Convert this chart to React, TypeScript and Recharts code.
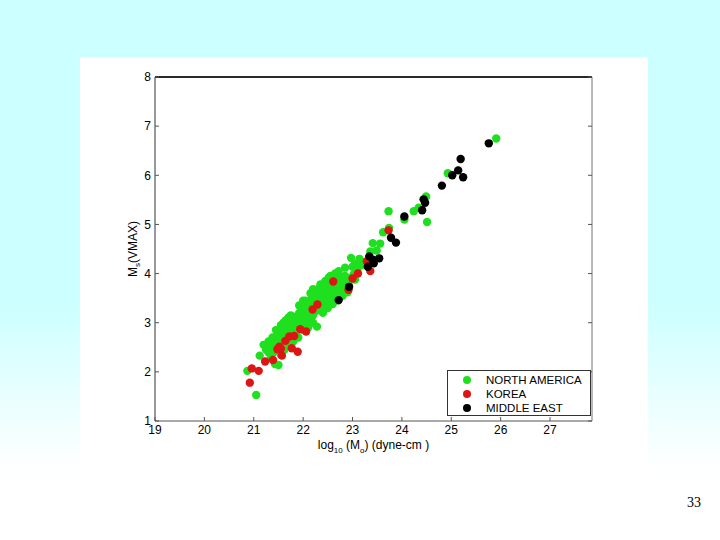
import { ScatterChart, Scatter, XAxis, YAxis, Legend, Label } from 'recharts';

const X_TICKS = [19, 20, 21, 22, 23, 24, 25, 26, 27];
const Y_TICKS = [1, 2, 3, 4, 5, 6, 7, 8];

// [log10 Mo, Ms] pairs
const northAmerica = [
  [20.87, 2.02], [21.05, 1.53], [21.12, 2.33], [21.43, 2.16], [21.5, 2.14], [21.3, 2.4],
  [21.35, 2.5], [21.38, 2.7], [21.3, 2.62], [21.42, 2.58], [21.45, 2.66], [21.48, 2.75],
  [21.52, 2.68], [21.55, 2.55], [21.58, 2.8], [21.6, 2.72], [21.62, 2.6], [21.65, 2.88],
  [21.68, 2.78], [21.7, 2.66], [21.72, 2.95], [21.75, 2.84], [21.78, 2.74], [21.8, 3.02],
  [21.82, 2.9], [21.85, 2.8], [21.85, 3.12], [21.88, 2.98], [21.9, 2.86], [21.92, 3.2],
  [21.95, 3.05], [21.97, 2.93], [22.0, 3.25], [22.0, 3.1], [22.02, 2.98], [22.05, 3.3],
  [22.06, 3.16], [22.08, 3.02], [22.1, 3.4], [22.12, 3.22], [22.14, 3.08], [22.15, 3.45],
  [22.18, 3.32], [22.2, 3.15], [22.22, 3.5], [22.24, 3.38], [22.26, 3.24], [22.28, 2.92],
  [22.3, 3.55], [22.31, 3.69], [22.32, 3.42], [22.34, 3.3], [22.36, 3.6], [22.38, 3.48],
  [22.4, 3.36], [22.42, 3.66], [22.45, 3.54], [22.47, 3.42], [22.5, 3.72], [22.52, 3.6],
  [22.55, 3.48], [22.58, 3.78], [22.6, 3.65], [22.62, 3.55], [22.65, 3.85], [22.68, 3.72],
  [22.7, 3.62], [22.75, 3.9], [22.78, 3.8], [22.82, 3.7], [22.85, 3.95], [22.88, 3.85],
  [22.92, 3.78], [22.97, 4.32], [23.0, 4.14], [23.02, 3.98], [23.05, 3.88], [23.1, 4.08],
  [23.14, 4.3], [23.2, 4.18], [23.36, 4.45], [23.41, 4.62], [23.49, 4.47], [23.56, 4.61],
  [23.62, 4.84], [23.73, 5.27], [23.74, 4.93], [24.05, 5.1], [24.24, 5.27], [24.34, 5.34],
  [24.49, 5.57], [24.51, 5.05], [24.93, 6.04], [25.91, 6.75],
  [21.25, 2.45], [21.35, 2.3], [21.4, 2.4], [21.55, 2.35], [21.62, 2.45], [21.2, 2.55],
  [21.45, 2.85], [21.55, 2.95], [21.65, 3.05], [21.75, 3.15], [21.7, 2.55], [21.8, 2.62],
  [21.9, 2.7], [22.0, 2.85], [22.1, 2.9], [22.2, 3.0], [21.92, 3.35], [22.05, 3.45],
  [22.15, 3.6], [22.25, 3.65], [22.35, 3.78], [22.45, 3.85], [22.55, 3.95], [22.65, 4.0],
  [22.72, 4.05], [22.4, 3.2], [22.5, 3.3], [22.6, 3.38], [22.7, 3.45], [22.8, 3.55],
  [22.9, 3.62], [22.95, 3.9], [23.05, 4.2], [22.85, 4.12], [21.6, 3.0], [21.7, 3.1],
  [22.0, 3.45], [22.2, 3.68], [22.52, 3.92], [22.73, 3.96],
];

const korea = [
  [20.92, 1.78], [20.96, 2.07], [21.1, 2.02], [21.23, 2.21], [21.39, 2.24], [21.57, 2.33],
  [21.48, 2.46], [21.52, 2.51], [21.55, 2.47], [21.64, 2.63], [21.72, 2.72], [21.82, 2.73],
  [21.77, 2.48], [21.89, 2.41], [21.94, 2.87], [22.06, 2.82], [22.19, 3.27], [22.29, 3.37],
  [22.61, 3.84], [22.92, 3.67], [23.0, 3.9], [23.11, 4.0], [23.29, 4.25], [23.36, 4.05],
  [23.73, 4.88],
];

const middleEast = [
  [22.72, 3.46], [22.93, 3.73], [23.31, 4.14], [23.34, 4.35], [23.41, 4.28], [23.43, 4.21],
  [23.54, 4.31], [23.78, 4.73], [23.88, 4.63], [24.05, 5.16], [24.41, 5.29], [24.44, 5.51],
  [24.47, 5.44], [24.81, 5.79], [25.02, 6.0], [25.14, 6.1], [25.19, 6.33], [25.24, 5.96],
  [25.76, 6.65],
];

const SERIES = [
  { name: 'NORTH AMERICA', color: '#1fe01f', points: northAmerica },
  { name: 'KOREA', color: '#dd1515', points: korea },
  { name: 'MIDDLE EAST', color: '#000000', points: middleEast },
];

const FONT = '"Liberation Sans", Arial, Helvetica, sans-serif';
const TICK_COLOR = '#555';

const BottomTick = (props: any) => {
  const { x, y, payload } = props;
  const axisY = y - 4;
  return (
    <g>
      <line x1={x} x2={x} y1={axisY} y2={axisY - 4} stroke={TICK_COLOR} />
      <text x={x} y={y} dy="0.71em" textAnchor="middle" fontSize={12} fontFamily={FONT} fill="#000">
        {payload.value}
      </text>
    </g>
  );
};

const LeftTick = (props: any) => {
  const { x, y, payload } = props;
  const axisX = x + 4;
  return (
    <g>
      <line x1={axisX} x2={axisX + 4} y1={y} y2={y} stroke={TICK_COLOR} />
      <text x={x} y={y} dy="0.36em" textAnchor="end" fontSize={12} fontFamily={FONT} fill="#000">
        {payload.value}
      </text>
    </g>
  );
};

const TopTick = (props: any) => {
  const { x, y } = props;
  return <line x1={x} x2={x} y1={y} y2={y + 4} stroke={TICK_COLOR} />;
};

const RightTick = (props: any) => {
  const { x, y } = props;
  return <line x1={x} x2={x - 4} y1={y} y2={y} stroke={TICK_COLOR} />;
};

const XTitle = ({ viewBox }: any) => {
  const cx = viewBox.x + viewBox.width / 2;
  return (
    <text x={cx} y={449} textAnchor="middle" fontSize={12} fontFamily={FONT} fill="#000">
      log<tspan fontSize={8} dy={4}>10</tspan>
      <tspan dy={-4}> (M</tspan>
      <tspan fontSize={8} dy={4}>o</tspan>
      <tspan dy={-4}>) (dyne-cm )</tspan>
    </text>
  );
};

const YTitle = ({ viewBox }: any) => {
  const cx = 137;
  const cy = viewBox.y + viewBox.height / 2;
  return (
    <text
      x={cx}
      y={cy}
      transform={`rotate(-90 ${cx} ${cy})`}
      textAnchor="middle"
      fontSize={12}
      fontFamily={FONT}
      fill="#000"
    >
      M<tspan fontSize={8} dy={3}>s</tspan>
      <tspan dy={-3}>(VMAX)</tspan>
    </text>
  );
};

const renderLegend = () => (
  <div
    style={{
      boxSizing: 'border-box',
      width: 144,
      height: 46,
      border: '1px solid #333',
      background: '#fff',
      paddingTop: 2,
      fontFamily: FONT,
      fontSize: 11.5,
      color: '#000',
    }}
  >
    {SERIES.map((s) => (
      <div key={s.name} style={{ display: 'flex', alignItems: 'center', height: 14 }}>
        <span
          style={{
            display: 'inline-block',
            width: 8,
            height: 8,
            borderRadius: '50%',
            background: s.color,
            marginLeft: 15,
            marginRight: 15,
          }}
        />
        <span>{s.name}</span>
      </div>
    ))}
  </div>
);

const dot = (color: string) => (props: any) =>
  <circle cx={props.cx} cy={props.cy} r={4.2} fill={color} />;

export default function App() {
  return (
    <div
      style={{
        position: 'absolute',
        left: 0,
        top: 0,
        width: 720,
        height: 540,
        background: 'linear-gradient(to bottom, #ccffff 0%, #ccffff 56%, #ffffff 87%, #ffffff 100%)',
        overflow: 'hidden',
      }}
    >
      <div style={{ position: 'absolute', left: 80, top: 57, width: 568, height: 411, background: '#fff' }} />
      <div style={{ position: 'absolute', left: 0, top: 0 }}>
        <ScatterChart width={720} height={540} margin={{ top: 67, right: 118, bottom: 89, left: 125 }}>
          <XAxis
            type="number"
            dataKey="x"
            domain={[19, 27.85]}
            ticks={X_TICKS}
            interval={0}
            height={30}
            tickSize={0}
            tickMargin={4}
            tick={<BottomTick />}
            axisLine={{ stroke: '#555', strokeWidth: 1 }}
            allowDataOverflow
          >
            <Label content={<XTitle />} />
          </XAxis>
          <XAxis
            xAxisId="top"
            orientation="top"
            type="number"
            domain={[19, 27.85]}
            ticks={X_TICKS}
            interval={0}
            height={10}
            tickSize={0}
            tickMargin={0}
            tick={<TopTick />}
            axisLine={{ stroke: '#2a2a2a', strokeWidth: 2 }}
            allowDataOverflow
          />
          <YAxis
            type="number"
            dataKey="y"
            domain={[1, 8]}
            ticks={Y_TICKS}
            interval={0}
            width={30}
            tickSize={0}
            tickMargin={4}
            tick={<LeftTick />}
            axisLine={{ stroke: '#333', strokeWidth: 1 }}
            allowDataOverflow
          >
            <Label content={<YTitle />} />
          </YAxis>
          <YAxis
            yAxisId="right"
            orientation="right"
            type="number"
            domain={[1, 8]}
            ticks={Y_TICKS}
            interval={0}
            width={10}
            tickSize={0}
            tickMargin={0}
            tick={<RightTick />}
            axisLine={{ stroke: '#777', strokeWidth: 1 }}
            allowDataOverflow
          />
          {SERIES.map((s) => (
            <Scatter
              key={s.name}
              name={s.name}
              data={s.points.map(([x, y]) => ({ x, y }))}
              fill={s.color}
              shape={dot(s.color)}
              isAnimationActive={false}
            />
          ))}
          <Legend
            layout="horizontal"
            verticalAlign="middle"
            align="center"
            content={renderLegend}
            wrapperStyle={{ left: 447, top: 370, width: 144, height: 46 }}
          />
        </ScatterChart>
      </div>
      <div
        style={{
          position: 'absolute',
          left: 687,
          top: 496,
          fontFamily: '"Liberation Serif", "Times New Roman", serif',
          fontSize: 14,
          lineHeight: '14px',
          color: '#000',
        }}
      >
        33
      </div>
    </div>
  );
}
